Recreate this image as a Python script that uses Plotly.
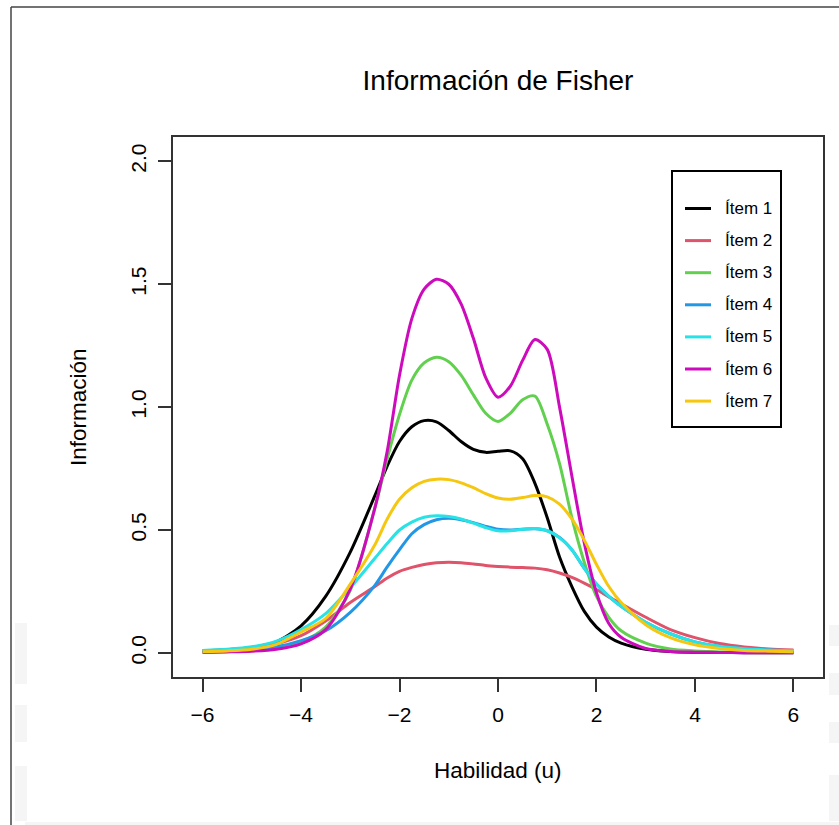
import plotly.graph_objects as go

# Ability grid and item information values
theta = [-6, -5.5, -5, -4.5, -4, -3.5, -3, -2.5, -2.25, -2, -1.75, -1.5, -1.25, -1,
         -0.75, -0.5, -0.25, 0, 0.25, 0.5, 0.75, 1, 1.25, 1.5, 1.75, 2, 2.25, 2.5,
         3, 3.5, 4, 4.5, 5, 5.5, 6]

item1 = [0.008, 0.013, 0.022, 0.045, 0.11, 0.23, 0.41, 0.64, 0.76, 0.86, 0.92, 0.945,
         0.94, 0.905, 0.86, 0.828, 0.816, 0.82, 0.822, 0.79, 0.69, 0.55, 0.39, 0.27,
         0.17, 0.105, 0.065, 0.04, 0.015, 0.006, 0.003, 0.002, 0.001, 0.001, 0.001]
item2 = [0.008, 0.012, 0.019, 0.037, 0.07, 0.13, 0.205, 0.27, 0.305, 0.332, 0.348, 0.36,
         0.367, 0.369, 0.367, 0.362, 0.356, 0.352, 0.349, 0.347, 0.345, 0.338, 0.325,
         0.307, 0.284, 0.258, 0.228, 0.20, 0.145, 0.095, 0.062, 0.038, 0.024, 0.016, 0.012]
item3 = [0.004, 0.006, 0.01, 0.02, 0.045, 0.105, 0.255, 0.59, 0.79, 0.97, 1.11, 1.18,
         1.203, 1.185, 1.13, 1.05, 0.975, 0.942, 0.975, 1.03, 1.045, 0.93, 0.77, 0.55,
         0.37, 0.23, 0.145, 0.09, 0.04, 0.016, 0.008, 0.004, 0.003, 0.002, 0.002]
item4 = [0.005, 0.008, 0.013, 0.025, 0.05, 0.09, 0.165, 0.275, 0.35, 0.42, 0.485, 0.522,
         0.542, 0.548, 0.542, 0.53, 0.515, 0.503, 0.5, 0.503, 0.505, 0.497, 0.47, 0.42,
         0.345, 0.28, 0.23, 0.19, 0.125, 0.078, 0.045, 0.027, 0.017, 0.012, 0.009]
item5 = [0.01, 0.015, 0.025, 0.048, 0.095, 0.16, 0.265, 0.385, 0.445, 0.50, 0.532, 0.552,
         0.558, 0.555, 0.545, 0.528, 0.51, 0.497, 0.497, 0.503, 0.506, 0.497, 0.468, 0.42,
         0.345, 0.28, 0.23, 0.19, 0.125, 0.078, 0.045, 0.027, 0.017, 0.012, 0.009]
item6 = [0.002, 0.004, 0.007, 0.015, 0.037, 0.095, 0.26, 0.59, 0.82, 1.13, 1.36, 1.48,
         1.52, 1.50, 1.42, 1.28, 1.12, 1.04, 1.085, 1.19, 1.275, 1.235, 1.0, 0.72, 0.45,
         0.245, 0.12, 0.064, 0.018, 0.006, 0.003, 0.002, 0.001, 0.001, 0.001]
item7 = [0.005, 0.008, 0.015, 0.035, 0.085, 0.14, 0.28, 0.44, 0.545, 0.625, 0.672, 0.698,
         0.707, 0.705, 0.692, 0.672, 0.648, 0.63, 0.625, 0.632, 0.64, 0.635, 0.605, 0.545,
         0.46, 0.36, 0.27, 0.205, 0.115, 0.062, 0.033, 0.018, 0.01, 0.007, 0.005]

series = [item1, item2, item3, item4, item5, item6, item7]
names = ["Ítem 1", "Ítem 2", "Ítem 3", "Ítem 4", "Ítem 5", "Ítem 6", "Ítem 7"]
colors = ["#000000", "#DF536B", "#61D04F", "#2297E6", "#28E2E5", "#CD0BBC", "#F5C710"]

x_ticks = [-6, -4, -2, 0, 2, 4, 6]
y_ticks = [0.0, 0.5, 1.0, 1.5, 2.0]
y_ticktext = ["0.0", "0.5", "1.0", "1.5", "2.0"]

W, H = 839, 825
ML, MR, MT, MB = 173, 16, 137, 148
PW, PH = W - ML - MR, H - MT - MB
FONT = "Liberation Sans, Arial, Helvetica, sans-serif"


def px(xp):
    return (xp - ML) / PW


def py(yp):
    return (H - MB - yp) / PH


fig = go.Figure()
for vals, name, col in zip(series, names, colors):
    fig.add_trace(go.Scatter(
        x=theta, y=vals, mode="lines", name=name,
        line=dict(color=col, width=3, shape="spline", smoothing=0.8),
        showlegend=False, hoverinfo="skip",
    ))

shapes = []
annotations = []

# legend box with line keys
lx0, lx1, ly0, ly1 = 672, 781, 171, 427
shapes.append(dict(type="rect", xref="paper", yref="paper",
                   x0=px(lx0), x1=px(lx1), y0=py(ly1), y1=py(ly0),
                   line=dict(color="#000000", width=2), fillcolor="white", layer="above"))
row0, row_step = 208.5, 32.1
for i, (name, col) in enumerate(zip(names, colors)):
    yy = row0 + i * row_step
    shapes.append(dict(type="line", xref="paper", yref="paper",
                       x0=px(685), x1=px(711), y0=py(yy), y1=py(yy),
                       line=dict(color=col, width=3), layer="above"))
    annotations.append(dict(text=name, xref="paper", yref="paper",
                            x=px(723), y=py(yy), xanchor="left", yanchor="middle",
                            showarrow=False, font=dict(family=FONT, size=17, color="#000000")))

# axis titles
annotations.append(dict(text="Habilidad (u)", xref="paper", yref="paper",
                        x=0.5, y=py(770), xanchor="center", yanchor="middle",
                        showarrow=False, font=dict(family=FONT, size=22.5, color="#000000")))
annotations.append(dict(text="Información", xref="paper", yref="paper",
                        x=px(78), y=py(407), xanchor="center", yanchor="middle",
                        textangle=-90, showarrow=False,
                        font=dict(family=FONT, size=22.5, color="#000000")))

# outer frame lines of the page
shapes.append(dict(type="line", xref="paper", yref="paper",
                   x0=px(11), x1=px(11), y0=py(7), y1=py(826),
                   line=dict(color="#444444", width=1.5), layer="above"))
shapes.append(dict(type="line", xref="paper", yref="paper",
                   x0=px(11), x1=px(840), y0=py(7), y1=py(7),
                   line=dict(color="#444444", width=1.5), layer="above"))

# faint grey marks near the lower edges
faint = [(15, 27, 623, 684), (15, 27, 705, 742), (15, 27, 766, 821),
         (829, 840, 625, 646), (829, 840, 673, 695), (829, 840, 722, 743),
         (829, 840, 775, 821), (25, 840, 822, 826)]
for x0, x1, y0, y1 in faint:
    shapes.append(dict(type="rect", xref="paper", yref="paper",
                       x0=px(x0), x1=px(x1), y0=py(y1), y1=py(y0),
                       line=dict(width=0), fillcolor="#f5f5f5", layer="below"))

fig.update_layout(
    width=W, height=H,
    margin=dict(l=ML, r=MR, t=MT, b=MB, pad=0),
    paper_bgcolor="white", plot_bgcolor="white",
    font=dict(family=FONT, color="#000000"),
    title=dict(text="Información de Fisher", x=0.5, xref="paper", xanchor="center",
               y=1 - 80 / H, yanchor="middle", font=dict(family=FONT, size=28, color="#000000")),
    xaxis=dict(range=[-6.6, 6.6], tickvals=x_ticks, ticks="outside", ticklen=13,
               tickwidth=1.5, tickcolor="#333333", showline=True, mirror=True,
               linecolor="#333333", linewidth=1.5, showgrid=False, zeroline=False,
               tickfont=dict(family=FONT, size=21, color="#000000"),
               ticklabelstandoff=5, fixedrange=True),
    yaxis=dict(range=[-0.098, 2.099], tickvals=y_ticks, ticktext=y_ticktext,
               ticks="outside", ticklen=13, tickwidth=1.5, tickcolor="#333333",
               showline=True, mirror=True, linecolor="#333333", linewidth=1.5,
               showgrid=False, zeroline=False, tickangle=-90,
               tickfont=dict(family=FONT, size=21, color="#000000"),
               ticklabelstandoff=4, fixedrange=True),
    shapes=shapes, annotations=annotations, showlegend=False,
)

fig.write_html("out.html")
